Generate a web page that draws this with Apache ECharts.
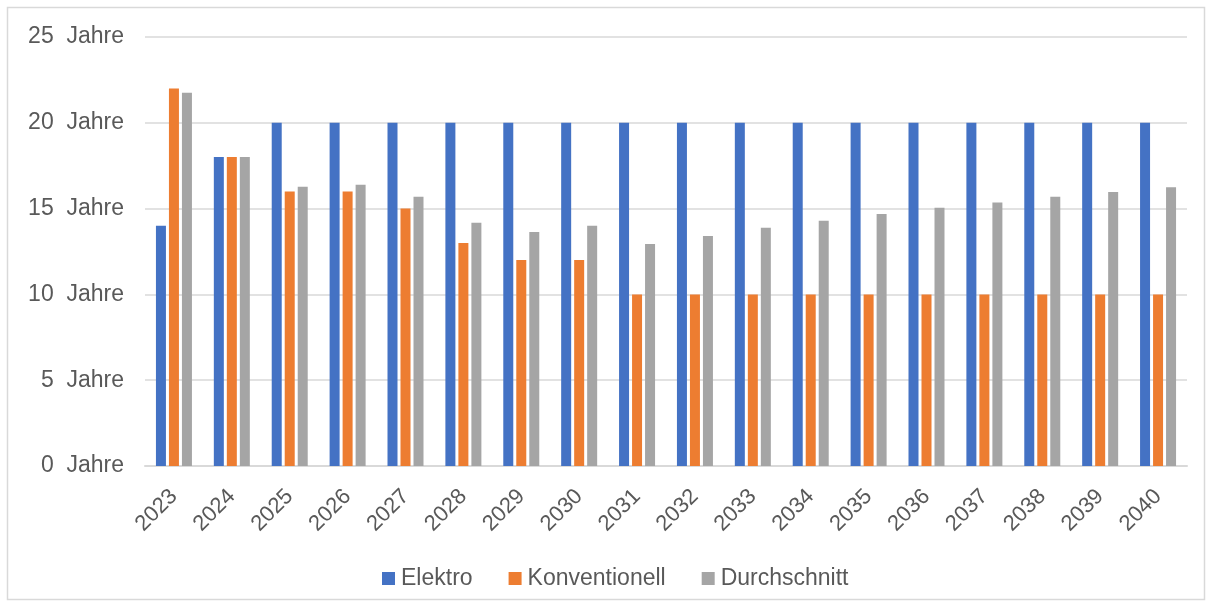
<!DOCTYPE html>
<html><head><meta charset="utf-8">
<script src="https://cdn.jsdelivr.net/npm/echarts@6/dist/echarts.min.js"></script>
<style>html,body{margin:0;padding:0;background:#fff}#c{width:1212px;height:605px}</style>
</head><body><div id="c"></div>
<script>
const categories = ['2023','2024','2025','2026','2027','2028','2029','2030','2031','2032','2033','2034','2035','2036','2037','2038','2039','2040'];
const elektro = [14,18,20,20,20,20,20,20,20,20,20,20,20,20,20,20,20,20];
const konventionell = [22,18,16,16,15,13,12,12,10,10,10,10,10,10,10,10,10,10];
const durchschnitt = [21.75,18,16.28,16.39,15.69,14.17,13.63,14.0,12.93,13.41,13.88,14.29,14.68,15.05,15.36,15.69,15.97,16.24];
const yTicks = [0,5,10,15,20,25];

const font = '"Liberation Sans", Arial, sans-serif';
const chart = echarts.init(document.getElementById('c'), null, {renderer:'canvas'});
chart.setOption({
  animation:false,
  backgroundColor:'#fff',
  graphic:[{type:'rect',shape:{x:7.5,y:7.5,width:1197,height:592},style:{fill:'none',stroke:'#d9d9d9',lineWidth:1.5}}],
  grid:{left:145,right:25,top:37,bottom:139,containLabel:false},
  legend:{top:562,left:377,itemWidth:13,itemHeight:13,itemGap:36,icon:'rect',
    textStyle:{fontFamily:font,fontSize:23,color:'#595959',padding:[0,0,0,1]},
    data:['Elektro','Konventionell','Durchschnitt']},
  xAxis:{type:'category',data:categories,
    axisLine:{lineStyle:{color:'#d9d9d9',width:2}},axisTick:{show:false},
    axisLabel:{rotate:45,fontFamily:font,fontSize:22,color:'#595959',margin:27,interval:0}},
  yAxis:{type:'value',min:yTicks[0],max:yTicks[yTicks.length-1],interval:5,
    axisLine:{show:false},axisTick:{show:false},
    splitLine:{lineStyle:{color:'#d9d9d9',width:1.5}},
    axisLabel:{fontFamily:font,fontSize:23,color:'#595959',margin:21,formatter:v=>v+'  Jahre'}},
  series:[
    {name:'Elektro',type:'bar',data:elektro,barWidth:10,barGap:'30%',itemStyle:{color:'#4472c4'}},
    {name:'Konventionell',type:'bar',data:konventionell,barWidth:10,barGap:'30%',itemStyle:{color:'#ed7d31'}},
    {name:'Durchschnitt',type:'bar',data:durchschnitt,barWidth:10,barGap:'30%',itemStyle:{color:'#a5a5a5'}}
  ]
});
</script></body></html>
